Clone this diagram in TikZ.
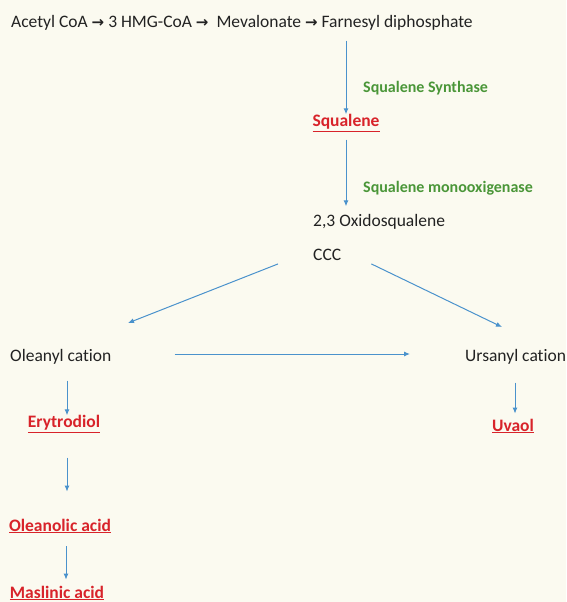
\documentclass[tikz,border=0pt]{standalone}
\usepackage{fontspec}
\setmainfont[Ligatures=NoCommon]{Carlito}
\newfontfamily\arrowfont{DejaVu Sans}
\usetikzlibrary{positioning,arrows.meta}
\definecolor{bg}{HTML}{FBFAF0}
\definecolor{red}{HTML}{D8232A}
\definecolor{green}{HTML}{4A9638}
\definecolor{blue}{HTML}{4A92CC}
\definecolor{ink}{HTML}{222222}
\newcommand{\ra}{{\arrowfont\bfseries\fontsize{15}{17}\selectfont →}}

\begin{document}
\begin{tikzpicture}[x=1pt, y=-1pt,
    txt/.style={inner sep=0pt, text=ink, font=\fontsize{17.5}{20}\selectfont},
    prod/.style={inner sep=0pt, text=red, font=\fontsize{17.5}{20}\selectfont\bfseries},
    enz/.style={inner sep=0pt, anchor=west, text=green, font=\fontsize{16}{18}\selectfont\bfseries},
    flow/.style={draw=blue, line width=1pt, -{Latex[length=6pt,width=5pt]}}]
      \fill[bg] (0,0) rectangle (566,602);
      \useasboundingbox (0,0) rectangle (566,602);
      % Define nodes
      \node[txt, anchor=west] (top) at (11,23) {Acetyl CoA \ra{} 3 HMG-CoA \ra~\hspace{4pt}Mevalonate \ra{} Farnesyl diphosphate};
      \node[enz] (ss) at (363,88) {Squalene Synthase};
      \node[prod] (sq) at (346,123) {\underline{Squalene}};
      \node[enz] (smo) at (363,188) {Squalene monooxigenase};
      \node[txt, anchor=west] (oxi) at (313,222) {2,3 Oxidosqualene};
      \node[txt, anchor=west] (ccc) at (313,255) {CCC};
      \node[txt, anchor=west] (ol) at (10,357) {Oleanyl cation};
      \node[txt, anchor=west] (ur) at (465,357) {Ursanyl cation};
      \node[prod] (ery) at (64,424) {\underline{Erytrodiol}};
      \node[prod] (oa) at (60,526) {\underline{Oleanolic acid}};
      \node[prod] (ma) at (57,593) {\underline{Maslinic acid}};
      \node[prod] (uv) at (513,426) {\underline{Uvaol}};
      \coordinate (olin) at (128,323);
      \coordinate (urin) at (502,327);
      % Connect the nodes
      \draw[flow] ([yshift=-10pt]sq |- top.south) -- (sq.north);
      \draw[flow] ([yshift=-8pt]sq.south) -- ([yshift=8pt]sq.south |- oxi.north);
      \draw[flow] ([xshift=-35pt,yshift=-3pt]ccc.south west) -- (olin);
      \draw[flow] ([xshift=30pt,yshift=-3pt]ccc.south east) -- (urin);
      \draw[flow, shorten <=63pt, shorten >=55pt] ([yshift=3pt]ol.east) -- ([yshift=3pt]ur.west);
      \draw[flow] ([xshift=3pt,yshift=-16pt]ol.south -| ery.north) -- ([xshift=3pt]ery.north);
      \draw[flow] ([xshift=3pt,yshift=-25pt]ery.south) -- ([xshift=3pt,yshift=27pt]ery.south |- oa.north);
      \draw[flow] ([xshift=6pt,yshift=-13pt]oa.south) -- ([xshift=6pt,yshift=6pt]oa.south |- ma.north);
      \draw[flow] ([xshift=2pt,yshift=-18pt]ur.south -| uv.north) -- ([xshift=2pt,yshift=5pt]uv.north);
    \end{tikzpicture}
\end{document}
